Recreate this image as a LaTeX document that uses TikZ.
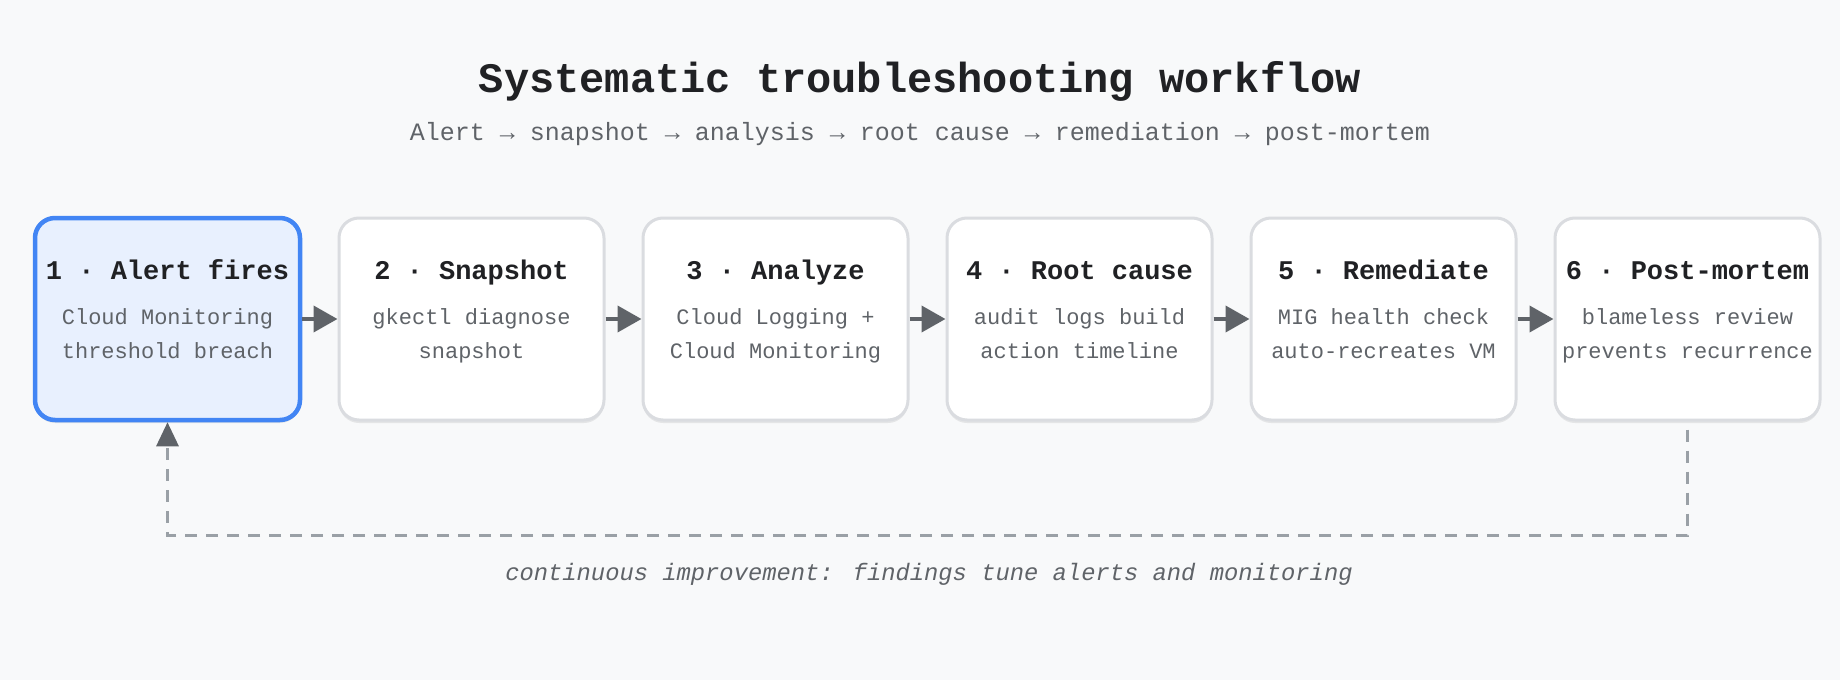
\documentclass[tikz,border=0pt]{standalone}
\usepackage{fontspec}
\setmainfont{Liberation Mono}
\usetikzlibrary{arrows.meta,shadows}

\definecolor{pagebg}{HTML}{F8F9FA}
\definecolor{boxline}{HTML}{DADCE0}
\definecolor{alertline}{HTML}{4285F4}
\definecolor{alertfill}{HTML}{E8F0FE}
\definecolor{inkdark}{HTML}{202124}
\definecolor{inkgray}{HTML}{5F6368}
\definecolor{arrowgray}{HTML}{5F6368}
\definecolor{loopgray}{HTML}{9AA0A6}

\tikzset{
  stepbox/.style={draw=boxline, line width=3pt, fill=white, rounded corners=20pt,
    minimum width=265pt, minimum height=202pt,
    drop shadow={shadow xshift=0pt, shadow yshift=-3pt, opacity=0.08, fill=black}},
  alertbox/.style={stepbox, draw=alertline, line width=4.5pt, fill=alertfill},
  steptitle/.style={anchor=base, text=inkdark, font=\fontsize{27}{32}\selectfont\bfseries},
  stepnote/.style={anchor=base, text=inkgray, align=center, font=\fontsize{22}{34}\selectfont},
  flow/.style={draw=arrowgray, line width=4pt, -{Triangle[length=24pt,width=26pt]}},
  feedback/.style={draw=loopgray, line width=3pt, dash pattern=on 12pt off 9pt,
    -{Triangle[length=24pt,width=22pt,color=arrowgray]}}
}

\begin{document}
\begin{tikzpicture}[x=1pt,y=-1pt]

  % page background, fixes the size of the picture
  \fill[pagebg] (0,0) rectangle (1840,680);

  % heading and the chain of stages under it
  \node[anchor=base, text=inkdark, font=\fontsize{42}{50}\selectfont\bfseries] (heading) at (920,92) {Systematic troubleshooting workflow};
  \node[anchor=base, text=inkgray, font=\fontsize{25}{30}\selectfont] (chain) at (920,140) {Alert → snapshot → analysis → root cause → remediation → post-mortem};

  % six stage boxes, 304 apart, centred on y = 319
  \node[alertbox] (alert) at (167.5,319) {};
  \node[stepbox] (snapshot) at (167.5 + 304,319) {};
  \node[stepbox] (analyze) at (167.5 + 2 * 304,319) {};
  \node[stepbox] (rootcause) at (167.5 + 3 * 304,319) {};
  \node[stepbox] (remediate) at (167.5 + 4 * 304,319) {};
  \node[stepbox] (postmortem) at (167.5 + 5 * 304,319) {};

  % titles of the stages
  \node[steptitle] (alert-t) at (167.5,279) {1 · Alert fires};
  \node[steptitle] (snapshot-t) at (167.5 + 304,279) {2 · Snapshot};
  \node[steptitle] (analyze-t) at (167.5 + 2 * 304,279) {3 · Analyze};
  \node[steptitle] (rootcause-t) at (167.5 + 3 * 304,279) {4 · Root cause};
  \node[steptitle] (remediate-t) at (167.5 + 4 * 304,279) {5 · Remediate};
  \node[steptitle] (postmortem-t) at (167.5 + 5 * 304,279) {6 · Post-mortem};

  % two lines of detail under each title (base is the second line)
  \node[stepnote] (alert-n) at (167.5,358) {Cloud Monitoring\\threshold breach};
  \node[stepnote] (snapshot-n) at (167.5 + 304,358) {gkectl diagnose\\snapshot};
  \node[stepnote] (analyze-n) at (167.5 + 2 * 304,358) {Cloud Logging +\\Cloud Monitoring};
  \node[stepnote] (rootcause-n) at (167.5 + 3 * 304,358) {audit logs build\\action timeline};
  \node[stepnote] (remediate-n) at (167.5 + 4 * 304,358) {MIG health check\\auto-recreates VM};
  \node[stepnote] (postmortem-n) at (167.5 + 5 * 304,358) {blameless review\\prevents recurrence};

  % arrows from one stage to the next
  \draw[flow] (alert) -- (snapshot);
  \draw[flow] (snapshot) -- (analyze);
  \draw[flow] (analyze) -- (rootcause);
  \draw[flow] (rootcause) -- (remediate);
  \draw[flow] (remediate) -- (postmortem);

  % dashed loop from post-mortem back to the alert, caption under it
  \coordinate (loopcorner) at (167.5,535);
  \draw[feedback] ([yshift=-8pt]postmortem.south) |- (loopcorner) -- (alert.south);
  \node[anchor=base, text=inkgray, font=\fontsize{23.8}{28}\selectfont\itshape] (looptext) at (929,580) {continuous improvement: findings tune alerts and monitoring};

\end{tikzpicture}
\end{document}
